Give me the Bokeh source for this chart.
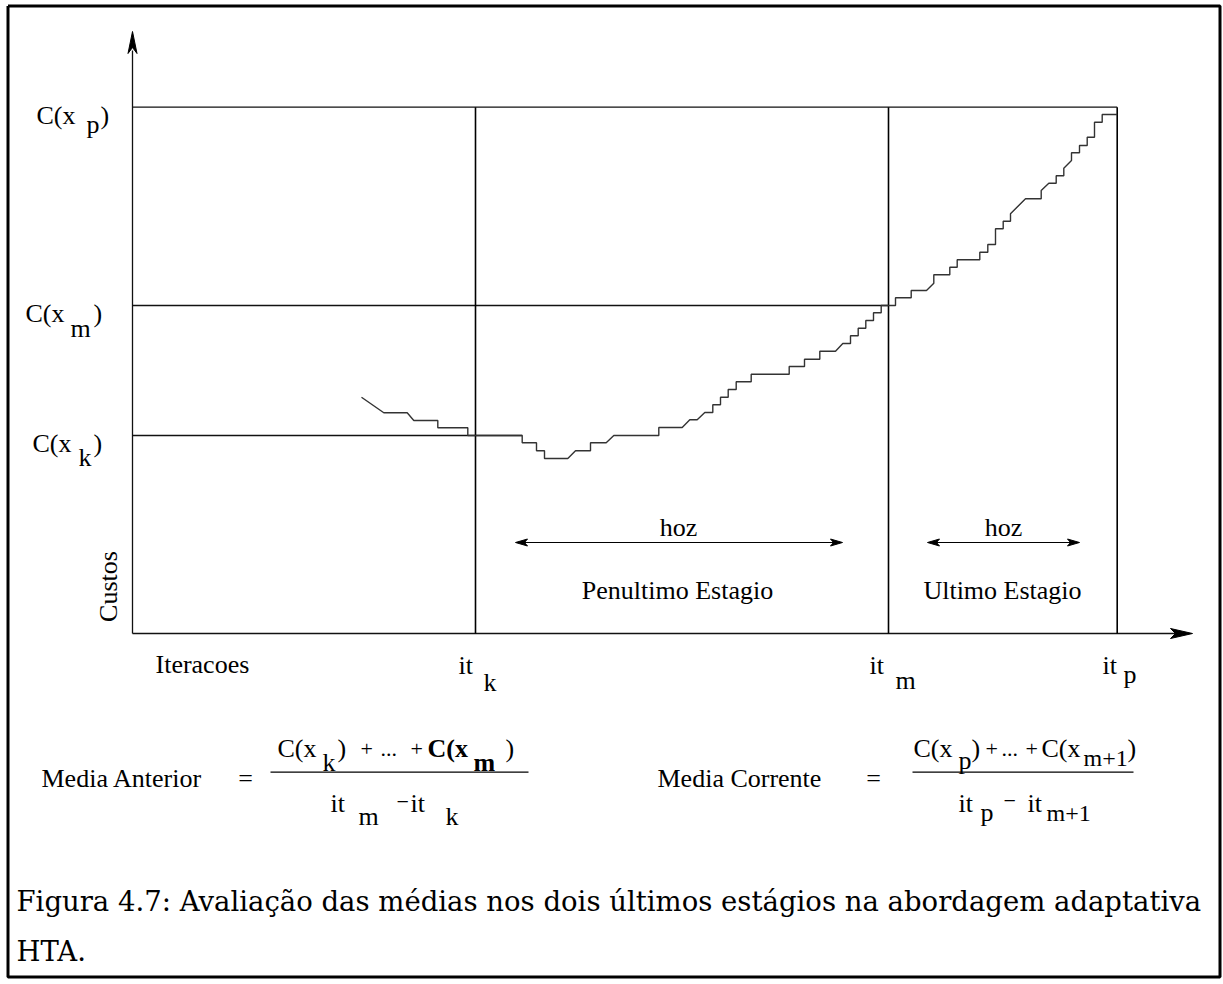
import math
from bokeh.plotting import figure
from bokeh.models import Range1d
from bokeh.core.properties import value
from bokeh.embed import file_html
from bokeh.resources import INLINE

# ---------------- data (schematic coordinates: iteration -> x, cost -> y, screen-like units) -------------
# cost trajectory of the annealing run (step curve)
curve_it = [361, 383.3, 406.7, 413.3, 437.3, 437.3, 467.3, 467.3, 521.7, 521.7, 536, 536, 544, 544,
            567.3, 575, 590, 590, 605.7, 613.3, 658.3, 658.3, 681.7, 689.3, 696.7, 704.3, 712.3, 712.3,
            720, 720, 727.7, 727.7, 735.7, 735.7, 750.7, 750.7, 788.7, 788.7, 804, 804, 819.3, 819.3,
            835, 842.3, 850, 850, 857.7, 857.7, 865.3, 865.3, 873, 873, 880.7, 880.7, 895, 895,
            910.7, 910.7, 926, 933.3, 933.3, 949.3, 949.3, 956.7, 956.7, 979.3, 979.3, 987.3, 987.3,
            995, 995, 1002.7, 1002.7, 1010, 1010, 1025, 1040.7, 1040.7, 1048.3, 1055.7, 1055.7, 1063.3,
            1063.3, 1071, 1071, 1079, 1079, 1086.7, 1086.7, 1094, 1094, 1101.7, 1101.7, 1116.7]
curve_cost = [396.7, 412.3, 412.3, 420, 420, 427.3, 427.3, 435, 435, 442.3, 442.3, 450.3, 450.3, 458,
              458, 450.3, 450.3, 442.3, 442.3, 435, 435, 427, 427, 419.3, 419.3, 412, 412, 404.3,
              404.3, 396.7, 396.7, 389, 389, 381.3, 381.3, 373.7, 373.7, 366, 366, 358.7, 358.7, 350.7,
              350.7, 343, 343, 335.3, 335.3, 327.7, 327.7, 320, 320, 312.3, 312.3, 305, 305, 297.3,
              297.3, 290, 290, 282.7, 274.3, 274.3, 266.7, 266.7, 259.3, 259.3, 251.7, 251.7, 244,
              244, 228.3, 228.3, 220.7, 220.7, 213.3, 198.3, 198.3, 190, 182.7, 182.7, 175.3, 175.3,
              167.7, 160, 152.3, 152.3, 145, 145, 136.7, 136.7, 121.7, 121.7, 114, 114]

# axis origin / extents
origin_it, origin_cost = 132, 633
axis_it_end, axis_cost_end = 1192, 31

# stage boundaries (iterations) and reference costs
it_k, it_m, it_p = 475, 888, 1116.7
cost_k, cost_m, cost_p = 435, 305, 106.7
cost_k_line_end = 521.7

# horizon arrows (iteration spans) and their level
hoz_spans = [(515, 842), (927, 1079)]
hoz_level = 542

# ---------------- figure -------------
W, H = 1223, 984
p = figure(width=W, height=H, x_range=Range1d(0, W), y_range=Range1d(H, 0),
           output_backend="svg", toolbar_location=None, min_border=0,
           x_axis_location=None, y_axis_location=None)
p.grid.visible = False
p.outline_line_color = None
p.background_fill_color = "white"
p.border_fill_color = "white"

LC = "#111111"
# outer frame
p.line([7.5, 1219.5, 1219.5, 7.5, 7.5], [5.5, 5.5, 976.5, 976.5, 5.5], line_color="black", line_width=3)

# axes
p.line([origin_it, origin_it], [origin_cost, 50], line_color=LC, line_width=1.3)
p.line([origin_it, 1175], [origin_cost, origin_cost], line_color=LC, line_width=1.3)
p.patch([origin_it, origin_it - 4.5, origin_it, origin_it + 4.5], [axis_cost_end, 53, 47, 53], color="black")
p.patch([axis_it_end, 1170, 1175, 1170], [origin_cost, origin_cost - 5, origin_cost, origin_cost + 5], color="black")

# reference levels
p.line([origin_it, it_p], [cost_p, cost_p], line_color=LC, line_width=1.3)
p.line([origin_it, it_m], [cost_m, cost_m], line_color=LC, line_width=1.3)
p.line([origin_it, cost_k_line_end], [cost_k, cost_k], line_color=LC, line_width=1.3)
# stage boundaries
for xv in (it_k, it_m, it_p):
    p.line([xv, xv], [cost_p, origin_cost], line_color="black", line_width=1.6)

# cost curve
p.line(curve_it, curve_cost, line_color="#333333", line_width=1.4)

# horizon double arrows
for (a, b) in hoz_spans:
    p.line([a + 6, b - 6], [hoz_level, hoz_level], line_color="black", line_width=1.2)
    p.patch([a, a + 12, a + 9, a + 12], [hoz_level, hoz_level - 3.5, hoz_level, hoz_level + 3.5], color="black")
    p.patch([b, b - 12, b - 9, b - 12], [hoz_level, hoz_level - 3.5, hoz_level, hoz_level + 3.5], color="black")

SERIF = "Liberation Serif"


def T(x, y, s, size=26, bold=False, align="left", angle=0.0, font=SERIF):
    p.text(x=[x], y=[y], text=[s], text_font=value(font), text_font_size=f"{size}px",
           text_font_style="bold" if bold else "normal", text_align=align,
           text_baseline="alphabetic", text_color="black", angle=angle)


# y labels
T(36, 115, "C(x"); T(86, 124, "p"); T(100, 115, ")")
T(25, 313, "C(x"); T(70, 328, "m"); T(93, 313, ")")
T(32, 443, "C(x"); T(78, 457, "k"); T(93, 443, ")")
T(108, 586, "Custos", align="center", angle=math.pi / 2)

# x labels
T(155, 664, "Iteracoes")
T(458, 665, "it"); T(483, 682, "k")
T(869, 665, "it"); T(895, 680, "m")
T(1102, 665, "it"); T(1123, 674, "p")

# stage labels
T(678, 527, "hoz", align="center"); T(1003, 527, "hoz", align="center")
T(677, 590, "Penultimo Estagio", align="center")
T(1002, 590, "Ultimo Estagio", align="center")

# formula left
T(41, 778, "Media Anterior")
T(245, 778, "=", align="center")
p.line([270, 528], [771.7, 771.7], line_color="black", line_width=1.3)
T(277, 748, "C(x"); T(322, 762, "k"); T(337, 748, ")")
T(360, 748, "+", size=22); T(380, 748, "...", size=22); T(410, 748, "+", size=22)
T(427, 748, "C(x", bold=True); T(473, 762, "m", bold=True); T(505, 748, ")")
T(330, 803, "it"); T(358, 816, "m"); T(396, 801, "\u2212", size=22); T(410, 803, "it"); T(445, 816, "k")

# formula right
T(657, 778, "Media Corrente")
T(873, 778, "=", align="center")
p.line([912, 1133], [771.7, 771.7], line_color="black", line_width=1.3)
T(913, 748, "C(x"); T(958, 760, "p"); T(971, 748, ")")
T(985, 748, "+", size=22); T(1001, 748, "...", size=22); T(1025, 748, "+", size=22)
T(1041, 748, "C(x"); T(1083, 757, "m+1", size=24); T(1127, 748, ")")
T(958, 803, "it"); T(980, 812, "p"); T(1003, 800, "\u2212", size=22); T(1027, 803, "it"); T(1046, 812, "m+1", size=24)

# caption
T(16, 900, "Figura 4.7: Avaliação das médias nos dois últimos estágios na abordagem adaptativa",
  size=27.5, font="DejaVu Serif")
T(16, 950, "HTA.", size=27.5, font="DejaVu Serif")

open("out.html", "w").write(file_html(p, INLINE))
